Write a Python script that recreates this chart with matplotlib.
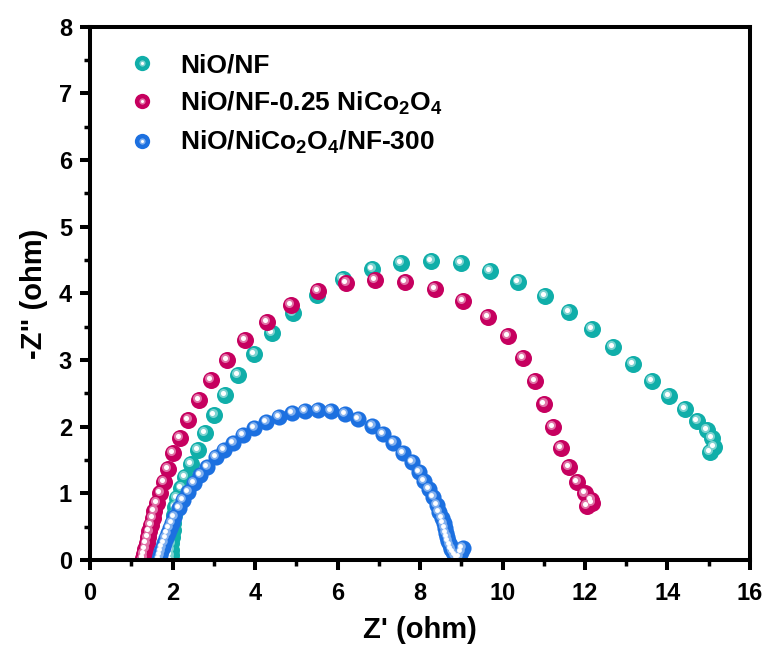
import matplotlib
matplotlib.use("Agg")
import matplotlib.pyplot as plt
import matplotlib.transforms as mtransforms
from matplotlib.lines import Line2D
from matplotlib.legend_handler import HandlerTuple
import numpy as np

plt.rcParams['font.family'] = ['Liberation Sans', 'DejaVu Sans']
plt.rcParams['font.weight'] = 'bold'
plt.rcParams['mathtext.fontset'] = 'custom'
plt.rcParams['mathtext.rm'] = 'Liberation Sans:bold'
plt.rcParams['mathtext.bf'] = 'Liberation Sans:bold'
plt.rcParams['mathtext.it'] = 'Liberation Sans:bold'
plt.rcParams['mathtext.default'] = 'bf'

# NiO/NF
nio_x = [1.95, 1.95, 1.96, 1.97, 1.98, 2.00, 2.02, 2.04, 2.07, 2.11, 2.21, 2.30, 2.45,
         2.62, 2.79, 3.01, 3.27, 3.59, 3.98, 4.41, 4.92, 5.50, 6.13, 6.84, 7.54, 8.27,
         8.99, 9.70, 10.38, 11.03, 11.61, 12.17, 12.68, 13.16, 13.62, 14.04, 14.42,
         14.72, 14.96, 15.08, 15.13, 15.03]
nio_y = [0.00, 0.07, 0.15, 0.25, 0.35, 0.45, 0.56, 0.68, 0.80, 0.93, 1.08, 1.25, 1.44,
         1.65, 1.91, 2.18, 2.48, 2.78, 3.09, 3.41, 3.71, 3.98, 4.22, 4.37, 4.46, 4.49,
         4.46, 4.34, 4.17, 3.96, 3.72, 3.47, 3.20, 2.94, 2.69, 2.46, 2.27,
         2.09, 1.95, 1.83, 1.70, 1.62]

# NiO/NF-0.25 NiCo2O4
mix_x = [1.28, 1.29, 1.31, 1.34, 1.37, 1.40, 1.44, 1.48, 1.52, 1.56, 1.62, 1.70, 1.79,
         1.89, 2.01, 2.18, 2.38, 2.64, 2.93, 3.32, 3.76, 4.29, 4.87, 5.53, 6.21, 6.91,
         7.64, 8.36, 9.04, 9.65, 10.13, 10.50, 10.79, 11.01, 11.22, 11.42, 11.61,
         11.81, 12.00, 12.15, 12.17, 12.05]
mix_y = [0.00, 0.03, 0.09, 0.17, 0.25, 0.34, 0.43, 0.53, 0.63, 0.74, 0.86, 1.01, 1.17,
         1.37, 1.61, 1.83, 2.10, 2.40, 2.70, 3.00, 3.30, 3.57, 3.83, 4.04, 4.16, 4.20,
         4.17, 4.07, 3.89, 3.65, 3.36, 3.03, 2.69, 2.34, 2.00, 1.68, 1.40,
         1.17, 1.00, 0.90, 0.86, 0.81]

# NiO/NiCo2O4/NF-300
hs_x = [1.68, 1.70, 1.73, 1.76, 1.80, 1.84, 1.88, 1.93, 1.98, 2.04, 2.16, 2.25, 2.38,
        2.52, 2.67, 2.84, 3.05, 3.25, 3.47, 3.71, 3.98, 4.27, 4.58, 4.90, 5.21, 5.53,
        5.84, 6.18, 6.50, 6.84, 7.10, 7.35, 7.59, 7.81, 7.98, 8.10, 8.22, 8.32, 8.41,
        8.46, 8.53, 8.57, 8.60, 8.63, 8.66, 8.69, 8.72, 8.76, 8.80, 8.85, 8.90, 8.95,
        9.00, 9.03]
hs_y = [0.02, 0.07, 0.13, 0.19, 0.26, 0.33, 0.40, 0.48, 0.56, 0.65, 0.78, 0.90, 1.02,
        1.16, 1.28, 1.40, 1.55, 1.65, 1.76, 1.88, 1.98, 2.07, 2.15, 2.21, 2.24, 2.25,
        2.24, 2.19, 2.12, 2.01, 1.89, 1.76, 1.61, 1.47, 1.32, 1.19, 1.07, 0.95, 0.83,
        0.72, 0.63, 0.55, 0.48, 0.41, 0.35, 0.29, 0.23, 0.17, 0.12, 0.07, 0.03, 0.05,
        0.12, 0.18]

labels = ['NiO/NF', 'NiO/NF-0.25 NiCo$_2$O$_4$', 'NiO/NiCo$_2$O$_4$/NF-300']
colors = ['#10aea9', '#c6005f', '#1c70e0']
series = [(nio_x, nio_y, 150), (mix_x, mix_y, 150), (hs_x, hs_y, 135)]


def lighten(c, f):
    rgb = np.array(matplotlib.colors.to_rgb(c))
    return tuple(rgb + (1 - rgb) * f)


fig = plt.figure(figsize=(7.7, 6.52), dpi=100)
ax = fig.add_axes([0.117, 0.141, 0.857, 0.818])

hl1 = mtransforms.offset_copy(ax.transData, fig=fig, x=-1.2, y=1.2, units='points')
hl2 = mtransforms.offset_copy(ax.transData, fig=fig, x=-1.6, y=1.6, units='points')

handles = []
for (x, y, s), c, lab in zip(series, colors, labels):
    ax.scatter(x, y, s=s, color=c, linewidths=0, zorder=2)
    ax.scatter(x, y, s=s * 0.28, color=lighten(c, 0.45), linewidths=0,
               transform=hl1, zorder=2)
    ax.scatter(x, y, s=s * 0.09, color='white', linewidths=0,
               transform=hl2, zorder=2)
    h1 = Line2D([], [], ls='none', marker='o', ms=11, color=c, mew=0)
    h2 = Line2D([], [], ls='none', marker='o', ms=4.5, color=lighten(c, 0.45), mew=0)
    h3 = Line2D([], [], ls='none', marker='o', ms=2.2, color='white', mew=0)
    handles.append((h1, h2, h3))

ax.legend(handles, labels, handler_map={tuple: HandlerTuple(ndivide=1, pad=0)},
          loc='upper left', bbox_to_anchor=(0.03, 0.985), frameon=False,
          fontsize=19, handlelength=1.0, handletextpad=0.95, labelspacing=0.47,
          borderaxespad=0.3)

ax.set_xlim(0, 16)
ax.set_ylim(0, 8)
ax.set_xticks(np.arange(0, 17, 2))
ax.set_xticks(np.arange(0, 17, 1), minor=True)
ax.set_yticks(np.arange(0, 9, 1))
ax.set_yticks(np.arange(0, 8.5, 0.5), minor=True)

for sp in ax.spines.values():
    sp.set_linewidth(2.9)
ax.tick_params(which='major', direction='out', length=7, width=2.9, labelsize=17)
ax.tick_params(axis='x', which='major', pad=9)
ax.tick_params(axis='y', which='major', pad=6)
ax.tick_params(which='minor', direction='out', length=4, width=2.5)
ax.tick_params(top=False, right=False, which='both')

ax.set_xlabel("Z' (ohm)", fontsize=21, fontweight='bold', labelpad=8)
ax.set_ylabel('-Z" (ohm)', fontsize=21, fontweight='bold', labelpad=8)

fig.savefig('out.png', dpi=100)
